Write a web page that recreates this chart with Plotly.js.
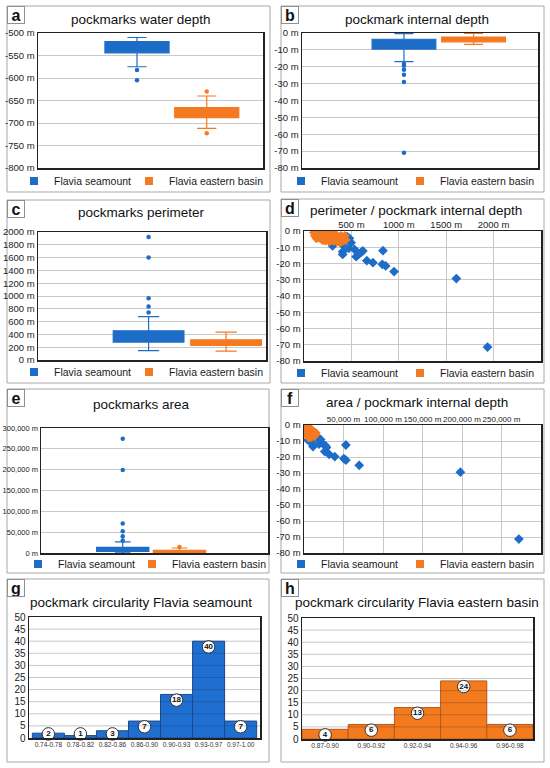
<!DOCTYPE html>
<html><head><meta charset="utf-8">
<script src="https://cdn.plot.ly/plotly-3.0.1.min.js"></script>
<style>html,body{margin:0;padding:0;background:#fff}#chart{width:550px;height:768px}</style>
</head><body><div id="chart"></div>
<script>
// ================= DATA =================
const seriesNames = ['Flavia seamount', 'Flavia eastern basin'];

// Box statistics: [lower whisker, q1, median, q3, upper whisker]
// a: pockmarks water depth (m)
const waterDepthSeamount = [-575, -544, -532, -519, -510];
const waterDepthBasin = [-712, -688, -677, -666, -640];
const waterDepthSeamountOutliers = [-582, -605];
const waterDepthBasinOutliers = [-630, -723];

// b: pockmark internal depth (m)
const internalDepthSeamount = [-17, -9.5, -6, -3.7, -0.4];
const internalDepthBasin = [-6.7, -5.2, -3.8, -2.4, -0.2];
const internalDepthSeamountOutliers = [-18.3, -19.4, -21.8, -24.8, -29, -71];
const internalDepthBasinOutliers = [];

// c: pockmarks perimeter (m)
const perimeterSeamount = [145, 280, 350, 456, 679];
const perimeterBasin = [140, 228, 265, 316, 435];
const perimeterSeamountOutliers = [741, 834, 964, 1601, 1922];
const perimeterBasinOutliers = [];

// e: pockmarks area (m2)
const areaSeamount = [500, 4000, 8000, 13500, 26500];
const areaBasin = [500, 1600, 4000, 6400, 12000];
const areaSeamountOutliers = [30000, 40000, 52000, 71000, 199000, 274000];
const areaBasinOutliers = [14500];

// d: perimeter (m) vs internal depth (m)
const perimSeamountX = [301, 408, 408, 408, 443, 479, 497, 472, 532, 550, 578, 603, 621, 663, 727, 833, 826, 862, 950, 1607, 1936, 380, 420, 455];
const perimSeamountY = [-9.2, -8.6, -12.7, -14.4, -6, -4.5, -7.2, -10.7, -11.3, -15.8, -14.2, -13.1, -12.3, -18.3, -19.5, -12.1, -20.5, -21.5, -25, -29.3, -71.4, -6.5, -5, -3.5];
const perimBasinX = [105, 115, 125, 140, 150, 160, 170, 185, 195, 205, 215, 225, 240, 250, 260, 275, 285, 300, 310, 320, 330, 345, 355, 370, 385, 400, 415, 430, 440, 130, 180, 230, 270, 300, 200, 250, 340, 390, 420];
const perimBasinY = [-1, -3, -0.3, -2, -4, -1, -3.5, -0.5, -2.5, -4.5, -1.5, -3, -5, -0.4, -2, -5.5, -4, -1, -6, -3, -5, -6.5, -3.5, -5.5, -7, -4, -6, -3, -5.5, -4.5, -4.8, -6, -6.5, -0.5, -5.8, -3.5, -2.5, -3, -4.5];

// f: area (m2) vs internal depth (m)
const areaSeamountX = [272000, 198000, 69900, 53000, 50400, 53000, 39000, 31800, 26300, 28400, 27500, 22000, 19000, 11400, 11400, 5000, 15700, 17800, 9300, 13000, 21000];
const areaSeamountY = [-71.3, -29.5, -25.2, -22, -21, -12.5, -19.8, -18.3, -16.6, -14.1, -13.1, -10.8, -12, -13.5, -12.5, -9.4, -7.3, -8.3, -10.4, -6, -9];
const areaBasinX = [500, 1000, 1500, 2000, 2500, 3000, 3500, 4000, 4500, 5000, 5500, 6000, 6500, 7000, 7500, 8000, 8500, 9000, 9500, 10000, 10500, 11000, 12000, 13000, 14000, 15000, 800, 3200, 6200];
const areaBasinY = [-3, -0.5, -1.5, -2, -0.3, -3.5, -1, -4.5, -2, -5.5, -3, -6.5, -1.5, -4, -7, -5, -3, -6, -7.5, -4.5, -6.5, -3.5, -5.5, -7, -6, -5, -1.5, -6, -8];

// g, h: circularity histograms
const circBinsSeamount = ['0.74-0.78', '0.78-0.82', '0.82-0.86', '0.86-0.90', '0.90-0.93', '0.93-0.97', '0.97-1.00'];
const circCountsSeamount = [2, 1, 3, 7, 18, 40, 7];
const circBinsBasin = ['0.87-0.90', '0.90-0.92', '0.92-0.94', '0.94-0.96', '0.96-0.98'];
const circCountsBasin = [4, 6, 13, 24, 6];

// tick values
const ticksWater = [-800, -750, -700, -650, -600, -550, -500];
const ticksInternal = [-80, -70, -60, -50, -40, -30, -20, -10, 0];
const ticksPerimeter = [0, 200, 400, 600, 800, 1000, 1200, 1400, 1600, 1800, 2000];
const ticksArea = [0, 50000, 100000, 150000, 200000, 250000, 300000];
const ticksPerimX = [500, 1000, 1500, 2000];
const ticksAreaX = [50000, 100000, 150000, 200000, 250000];
const ticksCount = [0, 5, 10, 15, 20, 25, 30, 35, 40, 45, 50];

// ================= STYLE / LAYOUT =================
const W = 550, H = 768;
const F = 'Liberation Sans, Arial, sans-serif';
const BLUE = '#1c6cc8', ORANGE = '#f47a22';
const GRID = '#c8c8c8', FRAME = '#222';
const px = (l, r) => [l / W, r / W];
const py = (t, b) => [1 - b / H, 1 - t / H];

const rects = {
  a: [38, 263, 33, 168], b: [302, 538, 33, 168], c: [38, 266, 232, 360], d: [304, 541, 231, 361],
  e: [41, 268, 428, 553], f: [304, 541, 425, 553], g: [29, 260, 617, 738], h: [302, 533, 618, 739]
};
const panels = {
  a: [7, 270, 6, 192], b: [281, 544, 6, 192], c: [7, 270, 200, 383], d: [281, 544, 199, 383],
  e: [7, 269, 389, 573], f: [281, 544, 389, 573], g: [7, 269, 579, 762], h: [281, 544, 579, 762]
};
const titles = [
  ['pockmarks water depth', 141, 20], ['pockmark internal depth', 417, 20],
  ['pockmarks perimeter', 141, 212], ['perimeter / pockmark internal depth', 416, 210],
  ['pockmarks area', 141, 404], ['area / pockmark internal depth', 417, 402],
  ['pockmark circularity Flavia seamount', 141, 602], ['pockmark circularity Flavia eastern basin', 417, 602]
];
// legend square centres [blueX, orangeX, y]
const legendPos = {
  a: [35, 150, 181], b: [302, 421, 181], c: [35, 150, 372], d: [302, 421, 373], e: [39, 153, 564], f: [302, 421, 564]
};
// box positions in [0,1] axis: [bluePos, orangePos, width]
const boxPos = { a: [0.44, 0.75, 0.285], b: [0.432, 0.727, 0.27], c: [0.485, 0.825, 0.31], e: [0.36, 0.61, 0.23] };

const axKey = { a: '', b: '2', c: '3', d: '4', e: '5', f: '6', g: '7', h: '8' };
const mText = v => String(v) + ' m';
const commaText = v => v.toLocaleString('en-US') + ' m';

const traces = [];
const layout = {
  width: W, height: H, margin: { l: 0, r: 0, t: 0, b: 0 },
  paper_bgcolor: '#fff', plot_bgcolor: '#fff', showlegend: true,
  font: { family: F, size: 10, color: '#222' },
  shapes: [], annotations: [], bargap: 0
};

function frameAxis(extra) {
  return Object.assign({ showline: true, mirror: true, linecolor: FRAME, linewidth: 1.5, zeroline: false, ticks: '', fixedrange: true, tickangle: 0 }, extra);
}

function addAxes(p, xa, ya) {
  const k = axKey[p];
  const r = rects[p];
  xa.domain = px(r[0], r[1]);
  ya.domain = py(r[2], r[3]);
  xa.anchor = 'y' + k; ya.anchor = 'x' + k;
  layout['xaxis' + k] = frameAxis(xa);
  layout['yaxis' + k] = frameAxis(ya);
}

function boxTrace(p, stats, pos, width, color, name) {
  const k = axKey[p];
  return {
    type: 'box', xaxis: 'x' + k, yaxis: 'y' + k, name: name, showlegend: false,
    x: [pos], lowerfence: [stats[0]], q1: [stats[1]], median: [stats[2]], q3: [stats[3]], upperfence: [stats[4]],
    width: width, whiskerwidth: 0.3, boxpoints: false, fillcolor: color,
    line: { color: color, width: 1.2 }, hoverinfo: 'skip'
  };
}
function outlierTrace(p, vals, pos, color) {
  const k = axKey[p];
  return {
    type: 'scatter', mode: 'markers', xaxis: 'x' + k, yaxis: 'y' + k, showlegend: false,
    x: vals.map(() => pos), y: vals, marker: { color: color, size: 4.5 }, hoverinfo: 'skip'
  };
}
let legN = 1;
function addLegend(p) {
  const k = axKey[p];
  const lp = legendPos[p];
  [[BLUE, seriesNames[0], lp[0]], [ORANGE, seriesNames[1], lp[1]]].forEach(([c, n, cx]) => {
    const id = legN === 1 ? 'legend' : 'legend' + legN;
    traces.push({
      type: 'scatter', mode: 'markers', x: [null], y: [null], xaxis: 'x' + k, yaxis: 'y' + k,
      name: n, legend: id, showlegend: true, marker: { symbol: 'square', size: 8, color: c }
    });
    layout[id] = {
      x: (cx - 21) / W, y: 1 - lp[2] / H, xanchor: 'left', yanchor: 'middle', orientation: 'h',
      bgcolor: 'rgba(0,0,0,0)', borderwidth: 0, itemwidth: 30,
      font: { family: F, size: 10.5, color: '#1a1a1a' }
    };
    legN++;
  });
}

function boxPanel(p, s1, s2, o1, o2, yRange, yTicks, tickFn, tickSize) {
  const bp = boxPos[p];
  traces.push(boxTrace(p, s1, bp[0], bp[2], BLUE, seriesNames[0]));
  traces.push(boxTrace(p, s2, bp[1], bp[2], ORANGE, seriesNames[1]));
  traces.push(outlierTrace(p, o1, bp[0], BLUE));
  traces.push(outlierTrace(p, o2, bp[1], ORANGE));
  addAxes(p,
    { range: [0, 1], showticklabels: false, showgrid: false },
    { range: yRange, tickvals: yTicks, ticktext: yTicks.map(tickFn), showgrid: true, gridcolor: GRID, gridwidth: 1,
      tickfont: { family: F, size: tickSize, color: '#222' } });
  addLegend(p);
}

function scatterPanel(p, bx, by, ox, oy, xRange, xTicks, xTickFn, xTickSize) {
  const k = axKey[p];
  traces.push({ type: 'scatter', mode: 'markers', xaxis: 'x' + k, yaxis: 'y' + k, showlegend: false, x: bx, y: by,
    marker: { symbol: 'diamond', size: 7.5, color: BLUE }, hoverinfo: 'skip', cliponaxis: true });
  traces.push({ type: 'scatter', mode: 'markers', xaxis: 'x' + k, yaxis: 'y' + k, showlegend: false, x: ox, y: oy,
    marker: { symbol: 'diamond', size: 7.5, color: ORANGE }, hoverinfo: 'skip', cliponaxis: true });
  addAxes(p,
    { range: xRange, side: 'top', tickvals: xTicks, ticktext: xTicks.map(xTickFn), showgrid: true, gridcolor: GRID,
      ticklabelstandoff: -2, tickfont: { family: F, size: xTickSize, color: '#222' } },
    { range: [-80, 0], tickvals: ticksInternal, ticktext: ticksInternal.map(mText), showgrid: true, gridcolor: GRID,
      tickfont: { family: F, size: 9.5, color: '#222' } });
  addLegend(p);
}

function histPanel(p, bins, counts, fill, edge) {
  const k = axKey[p];
  traces.push({ type: 'bar', xaxis: 'x' + k, yaxis: 'y' + k, showlegend: false, x: bins, y: counts,
    marker: { color: fill, line: { color: edge, width: 1 } }, hoverinfo: 'skip' });
  traces.push({ type: 'scatter', mode: 'markers+text', xaxis: 'x' + k, yaxis: 'y' + k, showlegend: false,
    x: bins, y: counts.map(v => Math.max(v - 2.35, 1.7)), text: counts.map(String), textposition: 'middle center',
    textfont: { family: F, size: 8, color: '#111', weight: 700 },
    marker: { size: 12.5, color: '#fff', line: { color: '#333', width: 1 } }, hoverinfo: 'skip', cliponaxis: false });
  addAxes(p,
    { type: 'category', tickfont: { family: F, size: 6.5, color: '#333' }, showgrid: false },
    { range: [0, 50], tickvals: ticksCount, showgrid: false, tickfont: { family: F, size: 10, color: '#222' } });
  // gridlines drawn over the bars, as in the reference
  ticksCount.slice(1, -1).forEach(v => layout.shapes.push({
    type: 'line', xref: 'x' + k + ' domain', yref: 'y' + k, x0: 0, x1: 1, y0: v, y1: v,
    line: { color: 'rgba(40,40,70,0.26)', width: 1 }, layer: 'above'
  }));
}

boxPanel('a', waterDepthSeamount, waterDepthBasin, waterDepthSeamountOutliers, waterDepthBasinOutliers, [-800, -500], ticksWater, mText, 9.5);
boxPanel('b', internalDepthSeamount, internalDepthBasin, internalDepthSeamountOutliers, internalDepthBasinOutliers, [-80, 0], ticksInternal, mText, 9.5);
boxPanel('c', perimeterSeamount, perimeterBasin, perimeterSeamountOutliers, perimeterBasinOutliers, [0, 2000], ticksPerimeter, mText, 9.5);
scatterPanel('d', perimSeamountX, perimSeamountY, perimBasinX, perimBasinY, [0, 2500], ticksPerimX, mText, 9.5);
boxPanel('e', areaSeamount, areaBasin, areaSeamountOutliers, areaBasinOutliers, [0, 300000], ticksArea, commaText, 7.5);
scatterPanel('f', areaSeamountX, areaSeamountY, areaBasinX, areaBasinY, [0, 300000], ticksAreaX, commaText, 8);
histPanel('g', circBinsSeamount, circCountsSeamount, '#1f6fd0', '#1d4a86');
histPanel('h', circBinsBasin, circCountsBasin, '#f47a1e', '#b8581a');

// panel borders, letters and titles
Object.keys(panels).forEach(p => {
  const b = panels[p];
  layout.shapes.push({ type: 'rect', xref: 'paper', yref: 'paper', x0: b[0] / W, x1: b[1] / W, y0: 1 - b[3] / H, y1: 1 - b[2] / H,
    line: { color: '#a8a8a8', width: 1 }, fillcolor: 'rgba(0,0,0,0)', layer: 'below' });
  layout.annotations.push({ text: '<b>' + p + '</b>', xref: 'paper', yref: 'paper', x: b[0] / W, y: 1 - b[2] / H,
    xanchor: 'left', yanchor: 'top', showarrow: false, bgcolor: '#fff', bordercolor: '#909090', borderwidth: 1, borderpad: 0,
    width: 16, height: 16, font: { family: F, size: 16, color: '#111' } });
});
titles.forEach(t => layout.annotations.push({ text: t[0], xref: 'paper', yref: 'paper', x: t[1] / W, y: 1 - t[2] / H,
  xanchor: 'center', yanchor: 'middle', showarrow: false, font: { family: F, size: 13.5, color: '#111' } }));

Plotly.newPlot('chart', traces, layout, { staticPlot: true, displayModeBar: false });
</script></body></html>
